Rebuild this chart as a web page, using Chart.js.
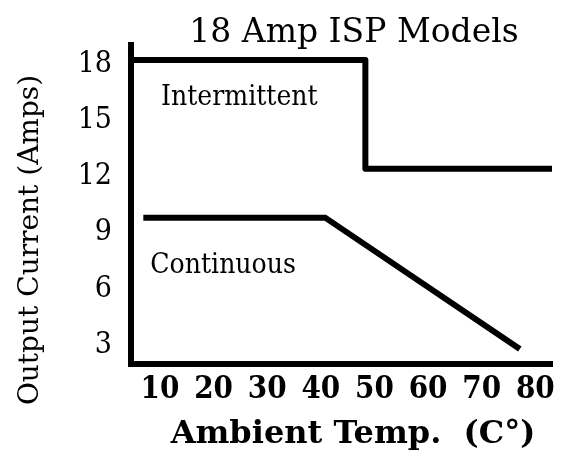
<!DOCTYPE html>
<html>
<head>
<meta charset="utf-8">
<script src="https://cdn.jsdelivr.net/npm/chart.js@4.4.1/dist/chart.umd.min.js"></script>
<style>
  html, body { margin: 0; padding: 0; background: #fff; }
  #wrap { width: 567px; height: 452px; }
</style>
</head>
<body>
<div id="wrap"><canvas id="ratingChart"></canvas></div>
<script>
// values
const tempTicks = [10, 20, 30, 40, 50, 60, 70, 80];
const ampTicks = [3, 6, 9, 12, 15, 18];

const intermittentTemp = [4.6, 48.3, 48.3, 83.1];
const intermittentAmps = [18.2, 18.2, 12.4, 12.4];

const continuousTemp = [6.9, 40.8, 77.1];
const continuousAmps = [9.8, 9.8, 2.8];

const chartTitle = "18 Amp ISP Models";
const xTitle = "Ambient Temp.  (C\u00b0)";
const yTitle = "Output Current (Amps)";

function toPoints(xs, ys) {
    return xs.map((v, i) => ({ x: v, y: ys[i] }));
}

// titles and in-plot labels
const textPlugin = {
    id: "textLabels",
    afterDraw(chart) {
        const { ctx, scales: { x, y } } = chart;
        ctx.save();
        ctx.fillStyle = "#000";
        ctx.textBaseline = "alphabetic";

        ctx.textAlign = "center";
        ctx.font = "33px 'DejaVu Serif'";
        ctx.fillText(chartTitle, 354, 42);

        ctx.font = "bold 32px 'DejaVu Serif'";
        ctx.fillText(xTitle, 353, 443);

        ctx.save();
        ctx.translate(38, 240);
        ctx.rotate(-Math.PI / 2);
        ctx.font = "28px 'DejaVu Serif'";
        ctx.fillText(yTitle, 0, 0);
        ctx.restore();

        ctx.textAlign = "left";
        ctx.font = "28px 'DejaVu Serif Condensed', 'DejaVu Serif'";
        ctx.fillText("Intermittent", x.getPixelForValue(10.2), y.getPixelForValue(15.8));
        ctx.fillText("Continuous", x.getPixelForValue(8.2), y.getPixelForValue(6.85));
        ctx.restore();
    }
};

const ctx = document.getElementById("ratingChart").getContext("2d");

new Chart(ctx, {
    type: "line",
    data: {
        datasets: [
            {
                label: "Intermittent",
                data: toPoints(intermittentTemp, intermittentAmps),
                borderColor: "#000",
                borderWidth: 6,
                pointRadius: 0,
                borderJoinStyle: "round",
                tension: 0,
                clip: false
            },
            {
                label: "Continuous",
                data: toPoints(continuousTemp, continuousAmps),
                borderColor: "#000",
                borderWidth: 6,
                pointRadius: 0,
                tension: 0,
                clip: false
            }
        ]
    },
    options: {
        responsive: true,
        maintainAspectRatio: false,
        animation: false,
        layout: {
            padding: { top: 45, right: 15, left: 0, bottom: 0 }
        },
        plugins: {
            legend: { display: false },
            tooltip: { enabled: false },
            title: { display: false }
        },
        scales: {
            x: {
                type: "linear",
                min: 4.6,
                max: 83.1,
                grid: { display: false, drawTicks: false },
                border: { display: true, color: "#000", width: 6 },
                ticks: {
                    color: "#000",
                    padding: 7,
                    maxRotation: 0,
                    font: { family: "'DejaVu Serif Condensed', 'DejaVu Serif'", weight: "bold", size: 31 }
                },
                afterBuildTicks: axis => {
                    axis.ticks = tempTicks.map(v => ({ value: v }));
                },
                afterFit: axis => {
                    axis.height = 88;
                }
            },
            y: {
                min: 2,
                max: 19,
                grid: { display: false, drawTicks: false },
                border: { display: true, color: "#000", width: 6 },
                ticks: {
                    color: "#000",
                    padding: 19,
                    font: { family: "'DejaVu Serif Condensed', 'DejaVu Serif'", size: 30 }
                },
                afterBuildTicks: axis => {
                    axis.ticks = ampTicks.map(v => ({ value: v }));
                },
                afterFit: axis => {
                    axis.width = 131;
                }
            }
        }
    },
    plugins: [textPlugin]
});
</script>
</body>
</html>
